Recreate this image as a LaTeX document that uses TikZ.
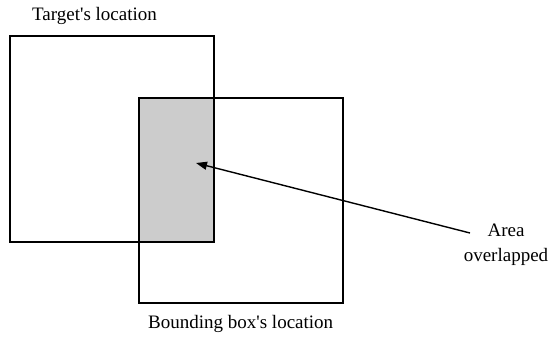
\documentclass[tikz,border=0pt]{standalone}
\usepackage{fontspec}
\setmainfont{Liberation Serif}
\usetikzlibrary{arrows.meta}
\begin{document}
\begin{tikzpicture}[x=1pt,y=-1pt,
  box/.style={draw=black,line width=1.6pt,inner sep=0pt,anchor=north west},
  caption/.style={inner sep=0pt,font=\fontsize{19}{25}\selectfont},
  pointer/.style={line width=1.4pt,-{Triangle[length=11pt,width=8pt]}}]
  \useasboundingbox (0,0) rectangle (551,339);
  % the two rectangles and their common part
  \node[box,minimum width=204pt,minimum height=206pt] (target) at (9,35) {};
  \node[box,minimum width=204pt,minimum height=205pt] (bbox) at (138,97) {};
  \node[box,fill=black!20,minimum width=75pt,minimum height=144pt] (overlap) at (138,97) {};
  % captions
  \node[caption,anchor=base west] (tlabel) at (32,21) {Target\textquotesingle s location};
  \node[caption,anchor=base west] (blabel) at (148,328) {Bounding box\textquotesingle s location};
  \node[caption,align=center,anchor=north] (alabel) at (506,224) {Area\\overlapped};
  % pointer into the overlap
  \coordinate (tail) at (470,233);
  \coordinate (tip) at (196,163);
  \draw[pointer] (tail) -- (tip);
\end{tikzpicture}
\end{document}
